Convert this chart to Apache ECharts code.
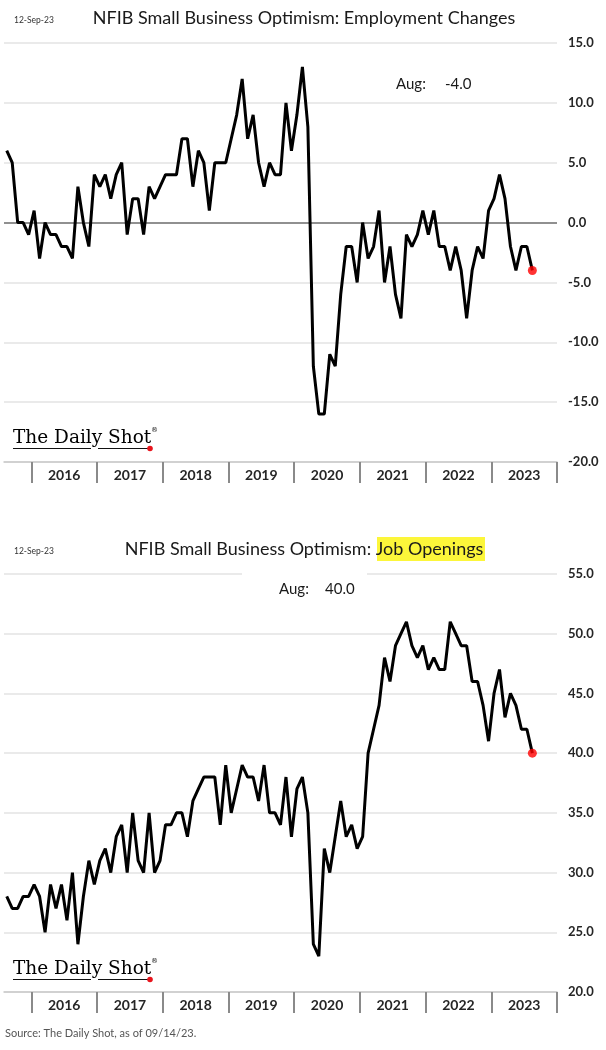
<!DOCTYPE html>
<html>
<head>
<meta charset="utf-8">
<script src="https://cdn.jsdelivr.net/npm/echarts@6/dist/echarts.min.js"></script>
<style>
  html, body { margin: 0; padding: 0; background: #fff; }
  #main { width: 606px; height: 1050px; }
</style>
</head>
<body>
<div id="main"></div>
<script>
// months Aug 2015 .. Dec 2023 (axis runs to the end of 2023)
const months = [];
for (let y = 2015; y <= 2023; y++) {
  for (let m = 1; m <= 12; m++) {
    if (y === 2015 && m < 8) continue;
    months.push(y + '-' + String(m).padStart(2, '0'));
  }
}

// Employment changes, Aug 2015 .. Aug 2023
const employment = [
  6, 5, 0, 0, -1,                                 // 2015
  1, -3, 0, -1, -1, -2, -2, -3, 3, 0, -2, 4,      // 2016
  3, 4, 2, 4, 5, -1, 2, 2, -1, 3, 2, 3,           // 2017
  4, 4, 4, 7, 7, 3, 6, 5, 1, 5, 5, 5,             // 2018
  7, 9, 12, 7, 9, 5, 3, 5, 4, 4, 10, 6,           // 2019
  9, 13, 8, -12, -16, -16, -11, -12, -6, -2, -2, -5, // 2020
  0, -3, -2, 1, -5, -2, -6, -8, -1, -2, -1, 1,    // 2021
  -1, 1, -2, -2, -4, -2, -4, -8, -4, -2, -3, 1,   // 2022
  2, 4, 2, -2, -4, -2, -2, -4                     // 2023
];

// Job openings, Aug 2015 .. Aug 2023
const openings = [
  28, 27, 27, 28, 28,                             // 2015
  29, 28, 25, 29, 27, 29, 26, 30, 24, 28, 31, 29, // 2016
  31, 32, 30, 33, 34, 30, 35, 31, 30, 35, 30, 31, // 2017
  34, 34, 35, 35, 33, 36, 37, 38, 38, 38, 34, 39, // 2018
  35, 37, 39, 38, 38, 36, 39, 35, 35, 34, 38, 33, // 2019
  37, 38, 35, 24, 23, 32, 30, 33, 36, 33, 34, 32, // 2020
  33, 40, 42, 44, 48, 46, 49, 50, 51, 49, 48, 49, // 2021
  47, 48, 47, 47, 51, 50, 49, 49, 46, 46, 44, 41, // 2022
  45, 47, 43, 45, 44, 42, 42, 40                  // 2023
];

const empTicks = [-20, 15];   // min / max
const jobTicks = [20, 55];

const chart = echarts.init(document.getElementById('main'));

const grey = '#e3e3e3';
const lastE = employment.length - 1;
const lastJ = openings.length - 1;

function xAxisFor(gridIndex) {
  return {
    type: 'category',
    gridIndex: gridIndex,
    data: months,
    boundaryGap: true,
    axisLine: { show: true, onZero: false, lineStyle: { color: '#c9c9c9', width: 1.5 } },
    axisTick: {
      show: true,
      inside: false,
      length: 21,
      interval: function (i, v) { return v.slice(5) === '01'; },
      lineStyle: { color: '#8a8a8a', width: 2 }
    },
    axisLabel: {
      interval: function (i, v) { return v.slice(5) === '07'; },
      formatter: function (v) { return v.slice(0, 4); },
      margin: 6,
      // label sits on July; nudge it back to the middle of the year
      padding: [0, 5.5, 0, 0],
      color: '#262626',
      fontFamily: 'Lato',
      fontWeight: 'bold',
      fontSize: 14
    },
    splitLine: { show: false }
  };
}

function yAxisFor(gridIndex, range, colors) {
  return {
    type: 'value',
    gridIndex: gridIndex,
    position: 'right',
    min: range[0],
    max: range[1],
    interval: 5,
    axisLine: { show: false },
    axisTick: { show: false },
    axisLabel: {
      margin: 11,
      formatter: function (v) { return v.toFixed(1); },
      color: '#262626',
      fontFamily: 'Lato',
      fontWeight: 'bold',
      fontSize: 13
    },
    splitLine: { show: true, lineStyle: { color: colors, width: 1.5 } }
  };
}

function logo(y) {
  return {
    type: 'group',
    children: [
      { type: 'text', x: 13, y: y, style: { text: 'The Daily Shot', fontFamily: 'DejaVu Serif', fontSize: 18.5, fill: '#000', textVerticalAlign: 'middle' } },
      { type: 'text', x: 151, y: y - 8, style: { text: '®', fontFamily: 'DejaVu Sans', fontSize: 7, fill: '#111', textVerticalAlign: 'middle' } },
      { type: 'line', shape: { x1: 13, y1: y + 10.5, x2: 91, y2: y + 10.5 }, style: { stroke: '#111', lineWidth: 1.2 } },
      { type: 'line', shape: { x1: 98, y1: y + 10.5, x2: 149, y2: y + 10.5 }, style: { stroke: '#111', lineWidth: 1.2 } },
      { type: 'circle', shape: { cx: 150, cy: y + 10.5, r: 2.8 }, style: { fill: '#e8141c' } }
    ]
  };
}

chart.setOption({
  animation: false,
  backgroundColor: '#fff',
  grid: [
    { left: 4, top: 43, width: 553, height: 419 },
    { left: 4, top: 574, width: 553, height: 418 }
  ],
  xAxis: [xAxisFor(0), xAxisFor(1)],
  yAxis: [
    yAxisFor(0, empTicks, [grey, grey, grey, grey, '#6b6b6b', grey, grey, grey]),
    yAxisFor(1, jobTicks, grey)
  ],
  graphic: [
    { type: 'text', x: 14, y: 20, style: { text: '12-Sep-23', fontFamily: 'Lato', fontSize: 8.5, fill: '#333', textVerticalAlign: 'middle' } },
    { type: 'text', x: 304, y: 18, style: { text: 'NFIB Small Business Optimism: Employment Changes', fontFamily: 'Lato', fontSize: 18, fill: '#1a1a1a', textAlign: 'center', textVerticalAlign: 'middle' } },
    { type: 'text', x: 396, y: 84, style: { text: 'Aug:', fontFamily: 'Lato', fontSize: 15, fill: '#1a1a1a', textVerticalAlign: 'middle' } },
    { type: 'text', x: 445, y: 84, style: { text: '-4.0', fontFamily: 'Lato', fontSize: 15, fill: '#1a1a1a', textVerticalAlign: 'middle' } },
    logo(438),

    { type: 'text', x: 14, y: 551, style: { text: '12-Sep-23', fontFamily: 'Lato', fontSize: 8.5, fill: '#333', textVerticalAlign: 'middle' } },
    { type: 'rect', shape: { x: 377, y: 537, width: 108, height: 24 }, style: { fill: '#fcf63a' } },
    { type: 'text', x: 304, y: 549, style: { text: 'NFIB Small Business Optimism: Job Openings', fontFamily: 'Lato', fontSize: 18, fill: '#1a1a1a', textAlign: 'center', textVerticalAlign: 'middle' } },
    { type: 'rect', z: 10, shape: { x: 242, y: 568, width: 125, height: 36 }, style: { fill: '#fff' } },
    { type: 'text', z: 11, x: 279, y: 589, style: { text: 'Aug:', fontFamily: 'Lato', fontSize: 15, fill: '#1a1a1a', textVerticalAlign: 'middle' } },
    { type: 'text', z: 11, x: 325, y: 589, style: { text: '40.0', fontFamily: 'Lato', fontSize: 15, fill: '#1a1a1a', textVerticalAlign: 'middle' } },
    logo(969),

    { type: 'text', x: 5, y: 1033, style: { text: 'Source: The Daily Shot, as of 09/14/23.', fontFamily: 'Lato', fontSize: 11, fill: '#555', textVerticalAlign: 'middle' } }
  ],
  series: [
    {
      type: 'line', xAxisIndex: 0, yAxisIndex: 0,
      data: employment, showSymbol: false, smooth: false,
      lineStyle: { color: '#000', width: 3 }, z: 3
    },
    {
      type: 'scatter', xAxisIndex: 0, yAxisIndex: 0,
      data: [[lastE, employment[lastE]]], symbolSize: 9,
      itemStyle: { color: '#ff0000' }, z: 4
    },
    {
      type: 'line', xAxisIndex: 1, yAxisIndex: 1,
      data: openings, showSymbol: false, smooth: false,
      lineStyle: { color: '#000', width: 3 }, z: 3
    },
    {
      type: 'scatter', xAxisIndex: 1, yAxisIndex: 1,
      data: [[lastJ, openings[lastJ]]], symbolSize: 9,
      itemStyle: { color: '#ff0000' }, z: 4
    }
  ]
});
</script>
</body>
</html>
